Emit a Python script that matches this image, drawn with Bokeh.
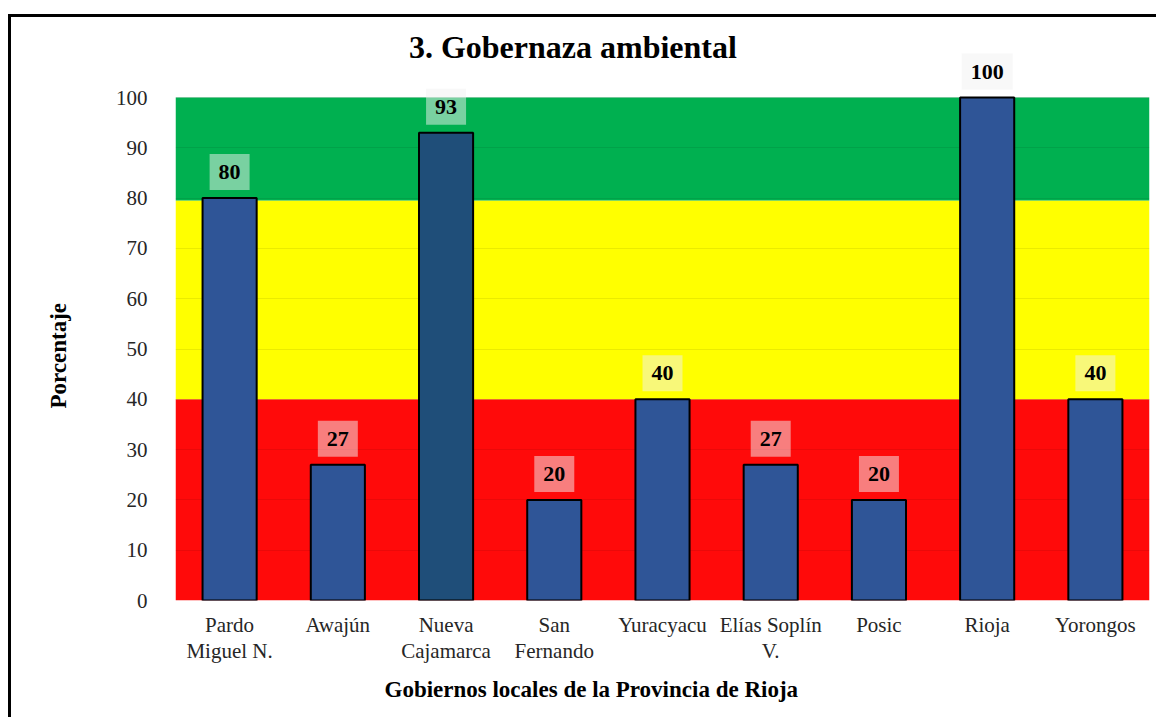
from bokeh.plotting import figure
from bokeh.models import Range1d, FixedTicker, ColumnDataSource, Label, Title
from bokeh.embed import file_html
from bokeh.resources import INLINE

categories = ["Pardo\nMiguel N.", "Awajún", "Nueva\nCajamarca", "San\nFernando",
              "Yuracyacu", "Elías Soplín\nV.", "Posic", "Rioja", "Yorongos"]
values = [80, 27, 93, 20, 40, 27, 20, 100, 40]
labels = ["80", "27", "93", "20", "40", "27", "20", "100", "40"]
band_bottoms = [0, 40, 79.5]
band_tops = [40, 79.5, 100]
band_colors = ["#FF0A0A", "#FFFF00", "#00B050"]
y_ticks = [0, 10, 20, 30, 40, 50, 60, 70, 80, 90, 100]
title_text = "3. Gobernaza ambiental"
x_title = "Gobiernos locales de la Provincia de Rioja"
y_title = "Porcentaje"

FONT = "Liberation Serif"

n = len(categories)
xs = [i + 0.5 for i in range(n)]
bar_colors = ["#2F5597"] * n
bar_colors[2] = "#1F4E79"

# frame spans from 20px to 600px (580px); value 100 sits at 97px -> extra headroom above 100
y_top = 100 * 580 / 503

p = figure(width=1156, height=717, output_backend="svg", toolbar_location=None,
           x_range=Range1d(0, n), y_range=Range1d(0, y_top),
           min_border_left=175, min_border_right=7, min_border_top=20, min_border_bottom=117)
p.outline_line_color = None
p.background_fill_color = "white"
p.border_fill_alpha = 0
p.styles = {
    "background-color": "white",
    "background-image": "linear-gradient(black, black), linear-gradient(black, black)",
    "background-size": "3px 100%, 100% 3px",
    "background-position": "8px 14px, 8px 14px",
    "background-repeat": "no-repeat, no-repeat",
}

# main title (drawn inside the headroom of the frame)
p.add_layout(Label(x=n * 0.408, y=100, y_offset=51, text=title_text, text_align="center",
                   text_baseline="alphabetic", text_font=FONT, text_font_size="32px",
                   text_font_style="bold", text_color="black"))

# axis titles
p.add_layout(Title(text=y_title, align="left", offset=192, standoff=84,
                   text_font=FONT, text_font_size="23px", text_font_style="bold",
                   text_color="black"), "left")
p.add_layout(Title(text=x_title, align="left", offset=209, standoff=23, vertical_align="top",
                   text_font=FONT, text_font_size="23px", text_font_style="bold",
                   text_color="black"), "below")

# background bands
bands = p.quad(left=0, right=n, bottom=band_bottoms, top=band_tops,
               fill_color=band_colors, line_color=None)
bands.level = "image"

# bars
src = ColumnDataSource(dict(x=xs, top=values, color=bar_colors))
p.vbar(x="x", top="top", width=0.5, bottom=0, source=src, fill_color="color",
       line_color="black", line_width=2)

# data labels
for xv, yv, t in zip(xs, values, labels):
    p.add_layout(Label(x=xv, y=yv, text=t, text_align="center", text_baseline="bottom",
                       y_offset=8, text_font=FONT, text_font_size="22px",
                       text_font_style="bold", text_color="black",
                       background_fill_color="#F2F2F2", background_fill_alpha=0.5,
                       padding=(9, 11)))

# axes
p.yaxis.ticker = FixedTicker(ticks=y_ticks)
p.xaxis.ticker = FixedTicker(ticks=xs)
p.xaxis.major_label_overrides = {x: c for x, c in zip(xs, categories)}
for ax in (p.xaxis[0], p.yaxis[0]):
    ax.axis_line_color = None
    ax.major_tick_line_color = None
    ax.minor_tick_line_color = None
    ax.major_label_text_font = FONT
    ax.major_label_text_font_size = "21px"
    ax.major_label_text_color = "#262626"
    ax.major_label_text_line_height = 1.1

p.yaxis.major_label_standoff = 22
p.xaxis.major_label_standoff = 6

p.xgrid.grid_line_color = None
p.ygrid.grid_line_color = "black"
p.ygrid.grid_line_alpha = 0.08
p.ygrid.grid_line_width = 1

open("out.html", "w").write(file_html(p, INLINE))
